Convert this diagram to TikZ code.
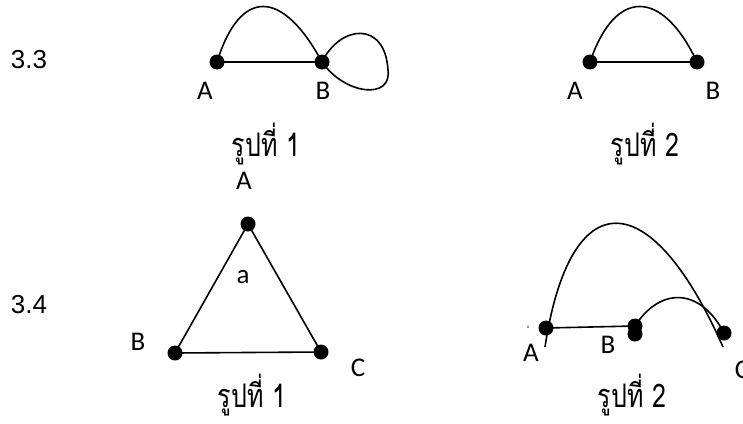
\documentclass[tikz,border=0pt]{standalone}
\usepackage{fontspec}
\usepackage{graphicx}
\setmainfont{Carlito}
\newfontfamily\numfont{Liberation Sans}
\newfontfamily\thaifont[Script=Thai]{Loma}
\usepackage{tikz}
\newcommand{\thaicap}[1]{\scalebox{1}[1.3]{\thaifont\fontsize{25}{27}\selectfont #1}}
\tikzset{
  vtx/.style={circle,fill=black,inner sep=0pt,minimum size=15pt},
  lbl/.style={font=\fontsize{27}{30}\selectfont,inner sep=0pt},
  numlbl/.style={font=\numfont\fontsize{26}{28}\selectfont,inner sep=0pt},
  tinylbl/.style={font=\fontsize{4}{5}\selectfont,inner sep=0pt},
  capt/.style={inner sep=0pt},
  edge/.style={line width=1.6pt,draw=black},
}

\begin{document}
\begin{tikzpicture}[x=1pt,y=-1pt]
  \useasboundingbox (0,0) rectangle (743,423);

  % 3.3
  \node[numlbl] (n33) at (29,60) {3.3};
  \node[vtx] (a1) at (217,62) {};
  \node[vtx] (b1) at (322,62) {};
  \coordinate (loopr) at (388,70);
  \node[lbl] (la1) at (205,91) {A};
  \node[lbl] (lb1) at (323,91) {B};
  \node[capt] (c1) at (266,144) {\thaicap{รูปที่ 1}};
  \draw[edge] (a1.center) -- (b1.center);
  \draw[edge] (a1.center) .. controls (240,-12) and (282,-12) .. (b1.center);
  \draw[edge] (b1.center) .. controls (340,25) and (385,20) .. (loopr)
        .. controls (392,100) and (345,95) .. (b1.center);

  \node[vtx] (a2) at (590,62) {};
  \node[vtx] (b2) at (697,62) {};
  \node[lbl] (la2) at (575,91) {A};
  \node[lbl] (lb2) at (713,91) {B};
  \node[capt] (c2) at (645,144) {\thaicap{รูปที่ 2}};
  \draw[edge] (a2.center) -- (b2.center);
  \draw[edge] (a2.center) .. controls (615,-12) and (662,-12) .. (b2.center);

  % 3.4
  \node[numlbl] (n34) at (29,305) {3.4};
  \node[vtx] (a3) at (248,224) {};
  \node[vtx] (b3) at (175,353) {};
  \node[vtx] (c3) at (321,352) {};
  \node[lbl] (la3) at (244,181) {A};
  \node[lbl] (lf3) at (243,277) {a};
  \node[lbl] (lb3) at (138,342) {B};
  \node[lbl] (lc3) at (358,368) {C};
  \node[capt] (c3t) at (252,395) {\thaicap{รูปที่ 1}};
  \draw[edge] (a3.center) -- (b3.center) -- (c3.center) -- (a3.center);

  \node[vtx] (a4) at (546,328) {};
  \node[vtx] (b4) at (635,326) {};
  \node[vtx] (b4x) at (635,334) {};
  \node[vtx] (c4) at (724,333) {};
  \coordinate (arcs) at (545,347);
  \coordinate (arce) at (723,347);
  \node[tinylbl] (la4t) at (528,327) {A};
  \node[lbl] (la4) at (531,353) {A};
  \node[lbl] (lb4) at (608,345) {B};
  \node[lbl] (lc4) at (742,370) {C};
  \node[capt] (c4t) at (632,395) {\thaicap{รูปที่ 2}};
  \draw[edge] (a4.center) -- (b4.center);
  \draw[edge] (arcs) .. controls (570,182) and (650,182) .. (arce);
  \draw[edge] (b4.center) .. controls (660,287) and (700,287) .. (c4.center);
\end{tikzpicture}
\end{document}
